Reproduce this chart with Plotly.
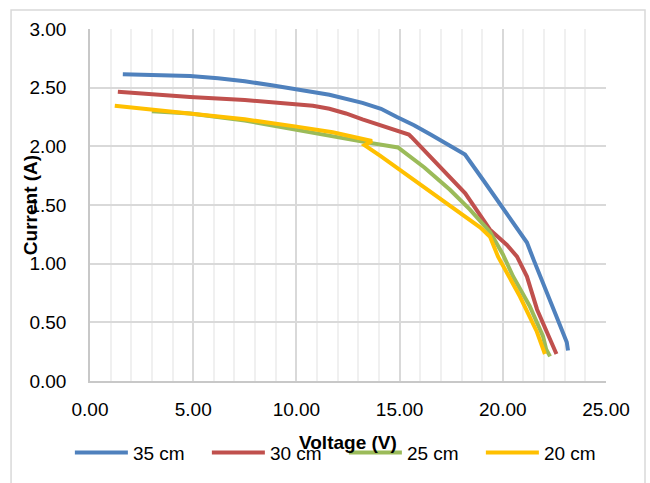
import plotly.graph_objects as go

# Voltage (V) / Current (A)
v35 = [1.59, 3.0, 4.85, 6.2, 7.5, 8.8, 9.93, 11.6, 13.2, 14.1, 14.87, 15.7, 16.5, 17.44, 18.17, 19.1, 19.96, 20.6, 21.17, 21.5, 21.95, 22.6, 23.1, 23.16]
i35 = [2.615, 2.61, 2.60, 2.58, 2.555, 2.52, 2.485, 2.44, 2.37, 2.32, 2.25, 2.18, 2.10, 2.0, 1.93, 1.70, 1.49, 1.33, 1.18, 1.03, 0.84, 0.55, 0.33, 0.26]

v30 = [1.35, 4.85, 7.5, 9.93, 10.8, 11.6, 12.4, 13.2, 14.5, 15.45, 15.57, 16.5, 17.44, 18.18, 19.38, 20.2, 20.69, 21.17, 21.66, 22.29, 22.45, 22.6]
i30 = [2.465, 2.42, 2.395, 2.36, 2.345, 2.32, 2.28, 2.23, 2.15, 2.10, 2.08, 1.91, 1.74, 1.60, 1.29, 1.16, 1.06, 0.89, 0.61, 0.36, 0.30, 0.23]

v25 = [3.0, 4.85, 7.5, 9.93, 13.2, 14.92, 16.2, 17.44, 18.41, 19.38, 20.0, 20.5, 21.3, 21.95, 22.1, 22.29]
i25 = [2.30, 2.28, 2.22, 2.14, 2.04, 1.99, 1.82, 1.63, 1.46, 1.27, 1.08, 0.89, 0.64, 0.38, 0.27, 0.21]

v20 = [1.2, 4.85, 7.5, 9.93, 11.76, 13.66, 13.3, 14.05, 15.0, 17.3, 18.9, 19.38, 19.77, 20.3, 20.83, 21.65, 21.95, 22.04]
i20 = [2.345, 2.28, 2.23, 2.17, 2.12, 2.045, 2.01, 1.92, 1.80, 1.51, 1.31, 1.23, 1.06, 0.89, 0.72, 0.42, 0.27, 0.23]

series_names = ["35 cm", "30 cm", "25 cm", "20 cm"]
series_colors = ["#4F81BD", "#C0504D", "#9BBB59", "#FFC000"]

x_ticks = [0, 5, 10, 15, 20, 25]
y_ticks = [0, 0.5, 1.0, 1.5, 2.0, 2.5, 3.0]

FONT = "Liberation Sans"

fig = go.Figure()
for name, color, xs, ys in zip(series_names, series_colors, [v35, v30, v25, v20], [i35, i30, i25, i20]):
    fig.add_trace(go.Scatter(x=xs, y=ys, mode="lines", name=name,
                             line=dict(color=color, width=4)))

fig.update_layout(
    width=650, height=483,
    margin=dict(l=90, r=44, t=29, b=101),
    paper_bgcolor="white", plot_bgcolor="white",
    font=dict(family=FONT, size=19, color="#000000"),
    showlegend=True,
    legend=dict(orientation="h", x=-0.039, xanchor="left", y=-0.2, yanchor="middle",
                entrywidth=69, entrywidthmode="pixels", itemwidth=53,
                font=dict(family=FONT, size=19, color="#000000"),
                bgcolor="rgba(0,0,0,0)", tracegroupgap=0),
    xaxis=dict(range=[0, 25], tickvals=x_ticks, ticktext=[f"{t:.2f}" for t in x_ticks],
               showgrid=True, gridcolor="#D9D9D9", gridwidth=1.5,
               minor=dict(dtick=1, showgrid=True, gridcolor="#F0F0F0", gridwidth=1.5),
               showline=True, linecolor="#C8C8C8", linewidth=1.5,
               zeroline=False, ticks="", ticklabelstandoff=10, fixedrange=True),
    yaxis=dict(range=[0, 3], tickvals=y_ticks, ticktext=[f"{t:.2f}" for t in y_ticks],
               showgrid=True, gridcolor="#D9D9D9", gridwidth=1.5,
               showline=True, linecolor="#C8C8C8", linewidth=1.5,
               zeroline=False, ticks="", ticklabelstandoff=18, fixedrange=True),
    annotations=[
        dict(text="<b>Current (A)</b>", textangle=-90, xref="paper", yref="paper",
             x=-0.116, y=0.5, xanchor="center", yanchor="middle", showarrow=False,
             font=dict(family=FONT, size=19, color="#000000")),
        dict(text="<b>Voltage (V)</b>", xref="paper", yref="paper",
             x=0.5, y=-0.176, xanchor="center", yanchor="middle", showarrow=False,
             font=dict(family=FONT, size=19, color="#000000")),
    ],
    shapes=[
        dict(type="rect", xref="paper", yref="paper", x0=-0.153, x1=1.0756, y0=-0.35, y1=1.054,
             line=dict(color="#D9D9D9", width=1.5), fillcolor="rgba(0,0,0,0)", layer="below"),
    ],
)

fig.write_html("out.html", config={"displayModeBar": False},
               post_script="document.body.style.margin='0';document.body.style.padding='0';")
